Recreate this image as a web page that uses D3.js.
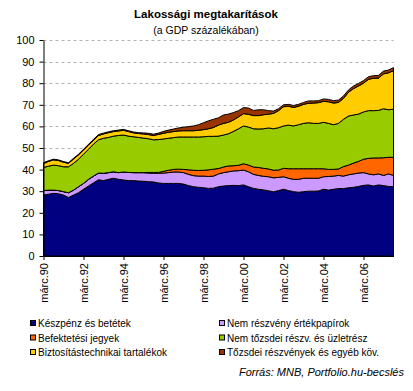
<!DOCTYPE html>
<html>
<head>
<meta charset="utf-8">
<script src="https://cdn.jsdelivr.net/npm/d3@7"></script>
<style>
  body { margin: 0; background: #fff; }
  svg { display: block; font-family: "Liberation Sans", Arial, sans-serif; }
</style>
</head>
<body>
<svg width="413" height="391"></svg>
<script>
var width = 413;
var height = 391;

// quarters, márc.90 .. szept.07
var months = ["márc.", "jún.", "szept.", "dec."];
var quarters = [];
for (var yr = 1990; yr <= 2007; yr++) {
  months.forEach((m) => quarters.push(m + String(yr).slice(2)));
}
quarters = quarters.slice(0, 71);

var tickLabels = ["márc.90", "márc.92", "márc.94", "márc.96", "márc.98",
  "márc.00", "márc.02", "márc.04", "márc.06"];
var yTicks = [0, 10, 20, 30, 40, 50, 60, 70, 80, 90, 100];

var seriesNames = [
  "Készpénz és betétek",
  "Nem részvény értékpapírok",
  "Befektetési jegyek",
  "Nem tőzsdei részv. és üzletrész",
  "Biztosítástechnikai tartalékok",
  "Tőzsdei részvények és egyéb köv."
];
var colors = ["#000080", "#cc99ff", "#ff6600", "#99cc00", "#ffcc00", "#993300"];

// values in % of GDP
var keszpenz = [28.2, 28.6, 29.0, 28.8, 28.2, 27.1, 28.2, 29.3, 30.9, 32.4, 33.9,
  35.3, 34.9, 35.5, 36.0, 35.5, 35.2, 34.9, 34.9, 34.7, 34.6,
  34.4, 34.3, 33.8, 33.6, 33.6, 33.6, 33.6, 33.3, 32.6, 32.1,
  31.8, 31.6, 31.3, 31.4, 32.1, 32.4, 32.6, 32.7, 32.6, 32.9,
  32.1, 31.3, 30.9, 30.6, 30.2, 29.7, 30.3, 30.9, 30.3, 29.8,
  29.5, 29.8, 30.0, 30.0, 30.1, 30.9, 30.5, 30.9, 31.2, 31.2,
  31.6, 31.8, 32.2, 32.7, 32.9, 32.4, 32.9, 32.6, 32.2, 32.1];
var nemReszveny = [2.1, 1.9, 1.5, 1.5, 1.6, 2.2, 2.3, 2.8, 2.7, 3.1, 3.1,
  3.1, 3.4, 3.1, 3.0, 3.1, 3.7, 3.8, 3.7, 3.9, 4.0,
  4.0, 4.0, 4.5, 4.8, 5.0, 5.3, 5.3, 5.3, 5.2, 5.1,
  5.2, 5.4, 5.5, 5.6, 5.9, 6.2, 6.4, 6.7, 6.9, 6.9,
  6.9, 6.5, 6.4, 6.3, 6.5, 6.5, 6.1, 5.8, 5.7, 5.7,
  6.0, 6.2, 6.0, 6.0, 5.9, 5.8, 6.3, 6.1, 6.1, 5.8,
  6.0, 6.2, 6.2, 5.9, 5.1, 5.2, 5.1, 4.7, 5.8, 5.2];
var befJegyek = [0, 0, 0, 0, 0, 0, 0, 0, 0, 0, 0,
  0, 0, 0, 0, 0, 0, 0, 0, 0, 0,
  0.3, 0.4, 0.4, 0.8, 1.1, 1.2, 1.3, 1.5, 2.1, 2.5,
  2.6, 2.7, 3.1, 3.2, 2.5, 2.6, 2.7, 2.4, 2.5, 2.9,
  3.1, 3.4, 3.7, 3.7, 3.6, 3.5, 3.4, 3.9, 4.4, 4.9,
  4.9, 4.4, 4.4, 4.4, 4.4, 3.7, 3.3, 3.1, 3.0, 4.4,
  4.5, 5.0, 5.4, 6.2, 7.2, 7.8, 7.4, 8.2, 7.7, 8.4];
var nemTozsdei = [10.7, 11.1, 11.6, 11.5, 11.5, 12.0, 12.4, 12.7, 13.5, 13.9, 14.8,
  15.4, 16.2, 16.3, 16.5, 17.2, 17.1, 16.8, 16.6, 16.3, 16.0,
  15.6, 15.1, 15.2, 15.0, 14.8, 14.7, 14.9, 15.0, 15.2, 15.4,
  15.5, 15.5, 15.5, 15.2, 15.0, 14.8, 14.9, 15.9, 16.9, 17.5,
  17.6, 17.7, 17.8, 18.3, 19.0, 19.2, 19.6, 19.6, 20.2, 19.8,
  20.4, 21.0, 21.3, 21.0, 21.0, 21.5, 21.3, 20.7, 21.1, 21.9,
  22.7, 22.3, 21.9, 21.9, 22.1, 21.9, 22.0, 22.7, 22.0, 22.3];
var biztositas = [1.8, 2.2, 2.4, 2.4, 2.1, 1.6, 2.0, 2.0, 2.0, 2.0, 1.8,
  2.0, 2.0, 2.2, 2.1, 2.1, 2.2, 2.1, 1.8, 1.8, 1.9,
  1.9, 2.0, 2.4, 2.6, 2.8, 2.8, 2.8, 2.9, 2.9, 2.9,
  3.1, 3.3, 3.5, 4.1, 5.1, 5.4, 5.3, 5.3, 5.5, 5.7,
  5.9, 6.1, 6.2, 6.5, 6.4, 7.1, 7.9, 8.9, 8.7, 8.6,
  8.5, 8.8, 9.0, 9.4, 9.6, 9.7, 10.0, 10.0, 9.7, 9.7,
  11.0, 12.2, 13.0, 13.3, 14.5, 15.0, 15.0, 16.1, 17.1, 17.8];
var tozsdei = [0.4, 0.3, 0.3, 0.3, 0.3, 0.3, 0.3, 0.3, 0.3, 0.3, 0.4,
  0.4, 0.4, 0.4, 0.4, 0.4, 0.4, 0.4, 0.4, 0.4, 0.5,
  0.6, 0.6, 0.6, 0.9, 1.0, 1.2, 1.4, 1.6, 1.9, 2.2,
  2.6, 3.2, 3.7, 3.8, 3.4, 3.9, 3.8, 3.4, 2.9, 2.8,
  2.9, 2.4, 2.7, 2.3, 1.6, 1.1, 0.9, 0.9, 0.9, 0.9,
  0.9, 0.9, 1.1, 1.0, 0.9, 1.1, 1.1, 1.1, 1.1, 1.1,
  1.1, 1.2, 1.2, 1.2, 1.2, 1.2, 1.2, 1.3, 1.3, 1.4];

var allSeries = [keszpenz, nemReszveny, befJegyek, nemTozsdei, biztositas, tozsdei];
var table = quarters.map((q, i) => {
  var row = { q: q };
  seriesNames.forEach((s, k) => (row[s] = allSeries[k][i]));
  return row;
});

// plot box (avoid the global name "top")
var plotLeft = 43.5, plotRight = 393.5, plotTop = 40, plotBottom = 256;

var xScale = d3.scalePoint().domain(quarters).range([plotLeft, plotRight]);
var yScale = d3.scaleLinear().domain([0, 100]).range([plotBottom, plotTop]);

var svg = d3.select("svg");

// gridlines
svg.append("g")
  .selectAll("line")
  .data(yTicks.filter((d) => d > 0))
  .enter()
  .append("line")
  .attr("x1", plotLeft)
  .attr("x2", plotRight)
  .attr("y1", (d) => Math.round(yScale(d)) + 0.5)
  .attr("y2", (d) => Math.round(yScale(d)) + 0.5)
  .attr("stroke", "#b4b4b4")
  .attr("stroke-dasharray", "3,3");

// stacked areas
var stacked = d3.stack().keys(seriesNames)(table);
var area = d3.area()
  .x((d) => xScale(d.data.q))
  .y0((d) => yScale(d[0]))
  .y1((d) => yScale(d[1]));

svg.append("g")
  .selectAll("path")
  .data(stacked)
  .enter()
  .append("path")
  .attr("d", area)
  .attr("fill", (d, i) => colors[i])
  .attr("stroke", "#000")
  .attr("stroke-width", 1);

// y axis
var yAxis = d3.axisLeft(yScale).tickValues(yTicks).tickSize(4).tickSizeOuter(0);
var yg = svg.append("g").attr("transform", `translate(${plotLeft},0)`).call(yAxis);
yg.selectAll("text").attr("font-size", 11).attr("fill", "#000").attr("dx", "-2");
yg.select(".domain").attr("stroke", "#000");

// x axis
var xAxis = d3.axisBottom(xScale).tickValues(tickLabels).tickSize(4).tickSizeOuter(0);
var xg = svg.append("g").attr("transform", `translate(0,${plotBottom})`).call(xAxis);
xg.select(".domain").attr("stroke", "#000");
xg.selectAll("text")
  .attr("font-size", 11)
  .attr("fill", "#000")
  .attr("transform", "rotate(-90)")
  .attr("text-anchor", "end")
  .attr("x", -7)
  .attr("y", 0)
  .attr("dy", "0.35em");

// titles
svg.append("text")
  .attr("x", 206)
  .attr("y", 18)
  .attr("text-anchor", "middle")
  .attr("font-size", 11.5)
  .attr("font-weight", "bold")
  .text("Lakossági megtakarítások");

svg.append("text")
  .attr("x", 206)
  .attr("y", 34)
  .attr("text-anchor", "middle")
  .attr("font-size", 10.5)
  .text("(a GDP százalékában)");

// legend, two columns
var legend = svg.append("g")
  .selectAll("g")
  .data(seriesNames)
  .enter()
  .append("g")
  .attr("transform", (d, i) => `translate(${i % 2 ? 219 : 30},${320 + Math.floor(i / 2) * 14.5})`);

legend.append("rect")
  .attr("x", 0.5)
  .attr("y", 0.5)
  .attr("width", 5)
  .attr("height", 5)
  .attr("fill", (d, i) => colors[i])
  .attr("stroke", "#000");

legend.append("text")
  .attr("x", 8)
  .attr("y", 7)
  .attr("font-size", 10)
  .text((d) => d);

// source
svg.append("text")
  .attr("x", 404)
  .attr("y", 376)
  .attr("text-anchor", "end")
  .attr("font-size", 11)
  .attr("font-style", "italic")
  .text("Forrás: MNB, Portfolio.hu-becslés");
</script>
</body>
</html>
